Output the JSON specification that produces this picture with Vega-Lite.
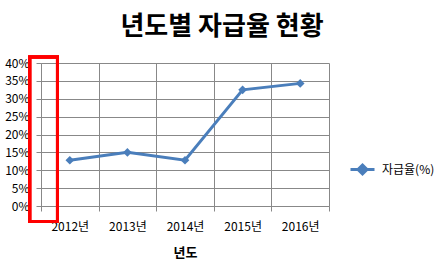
{
  "$schema": "https://vega.github.io/schema/vega-lite/v6.json",
  "autosize": "none",
  "width": 288,
  "height": 143,
  "padding": {"left": 41, "top": 63, "right": 117, "bottom": 68},
  "background": "white",
  "config": {
    "view": {"stroke": null},
    "font": "Noto Sans CJK KR",
    "axisX": {
      "labelBound": false,
      "labelOverlap": false,
      "labelFlush": false,
      "labelFontSize": 12,
      "labelColor": "#000000",
      "labelPadding": 10,
      "tickSize": 5,
      "tickColor": "#888888",
      "domainColor": "#888888",
      "gridColor": "#888888",
      "grid": true,
      "titleFontSize": 13,
      "titleFontWeight": "bold",
      "titleColor": "#000000",
      "titlePadding": 14
    },
    "axisY": {
      "labelOverlap": false,
      "labelFontSize": 12,
      "labelColor": "#000000",
      "labelPadding": 7,
      "tickSize": 5,
      "tickColor": "#888888",
      "domainColor": "#888888",
      "gridColor": "#888888",
      "grid": true
    }
  },
  "title": {
    "text": "년도별 자급율 현황",
    "fontSize": 26,
    "fontWeight": "bold",
    "font": "Noto Sans CJK KR",
    "color": "#000000",
    "anchor": "middle",
    "dx": 37,
    "offset": 15
  },
  "data": {
    "values": [
      {"year": 2012, "rate": 12.8, "series": "자급율(%)"},
      {"year": 2013, "rate": 15.0, "series": "자급율(%)"},
      {"year": 2014, "rate": 12.8, "series": "자급율(%)"},
      {"year": 2015, "rate": 32.5, "series": "자급율(%)"},
      {"year": 2016, "rate": 34.3, "series": "자급율(%)"}
    ]
  },
  "layer": [
    {
      "mark": {"type": "line", "strokeWidth": 3, "point": {"shape": "diamond", "size": 75, "filled": true}},
      "encoding": {
        "x": {
          "field": "year",
          "type": "quantitative",
          "scale": {"domain": [2011.5, 2016.5], "nice": false, "zero": false},
          "axis": {
            "title": "년도",
            "values": [2011.5, 2012.5, 2013.5, 2014.5, 2015.5, 2016.5],
            "labelExpr": "datum.value < 2016.4 ? (datum.value + 0.5) + '년' : ''",
            "labelOffset": 28.8
          }
        },
        "y": {
          "field": "rate",
          "type": "quantitative",
          "scale": {"domain": [0, 40], "nice": false},
          "axis": {
            "title": null,
            "values": [0, 5, 10, 15, 20, 25, 30, 35, 40],
            "labelExpr": "datum.value + '%'"
          }
        },
        "color": {
          "field": "series",
          "type": "nominal",
          "scale": {"range": ["#4a7ebb"]},
          "legend": {
            "title": null,
            "orient": "none",
            "legendX": 308,
            "legendY": 93,
            "symbolType": "M-1,0L1,0M0,-0.375L0.375,0L0,0.375L-0.375,0Z",
            "symbolSize": 576,
            "symbolStrokeWidth": 3,
            "symbolFillColor": "#4a7ebb",
            "labelFontSize": 12,
            "labelColor": "#000000",
            "labelOffset": 6
          }
        }
      }
    },
    {
      "mark": {"type": "rect", "fill": null, "fillOpacity": 0, "stroke": "#ff0000", "strokeWidth": 3, "clip": false},
      "encoding": {
        "x": {
          "datum": 2011.304,
          "type": "quantitative",
          "axis": {
            "title": "년도",
            "values": [2011.5, 2012.5, 2013.5, 2014.5, 2015.5, 2016.5],
            "labelExpr": "datum.value < 2016.4 ? (datum.value + 0.5) + '년' : ''",
            "labelOffset": 28.8
          }
        },
        "x2": {"datum": 2011.786},
        "y": {
          "datum": 41.68,
          "type": "quantitative",
          "axis": {
            "title": null,
            "values": [0, 5, 10, 15, 20, 25, 30, 35, 40],
            "labelExpr": "datum.value + '%'"
          }
        },
        "y2": {"datum": -4.34}
      }
    }
  ]
}
